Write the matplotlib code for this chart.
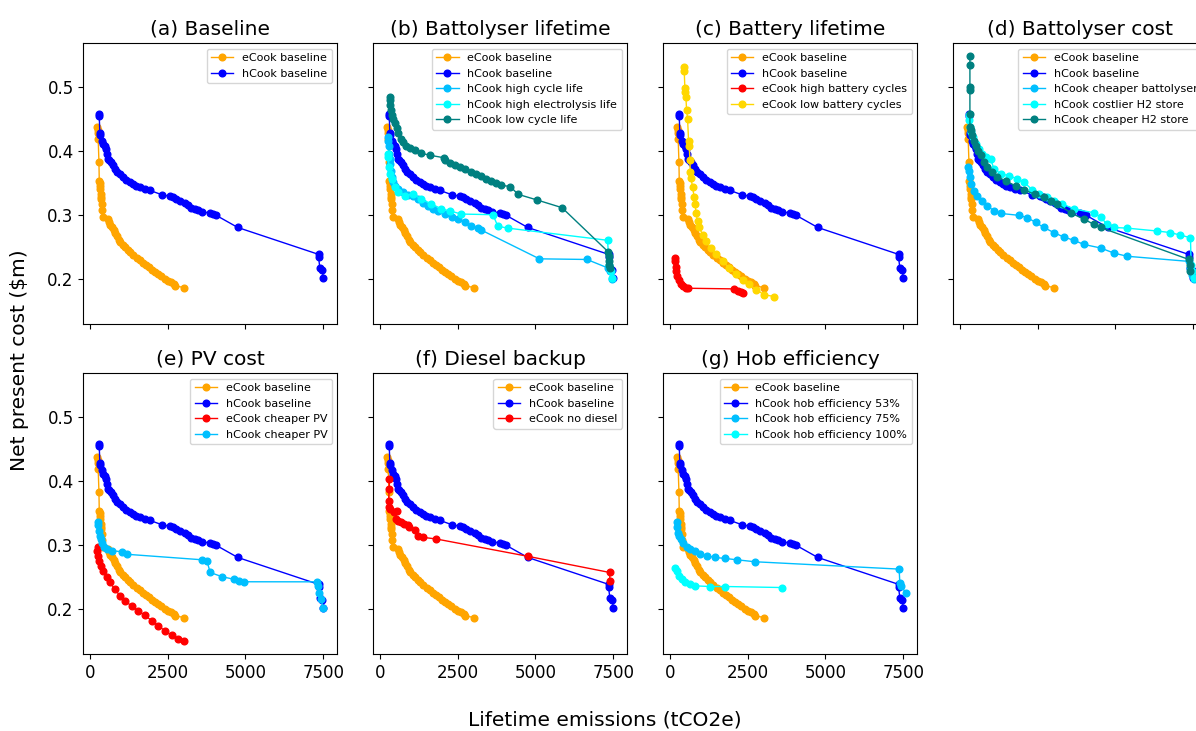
import matplotlib

matplotlib.use("Agg")
import matplotlib.pyplot as plt

# values (x = lifetime emissions tCO2e, y = NPC $m)
ecook_base_x = [240, 245, 255, 265, 290, 300, 310, 320, 325, 340, 350, 370, 385, 400, 420, 590, 620, 660, 700, 760,
                800, 860, 920, 980, 1060, 1140, 1220, 1300, 1400, 1500, 1600, 1700, 1800, 1900, 2000, 2100, 2200,
                2300, 2400, 2500, 2600, 2700, 2750, 3010]
ecook_base_y = [0.437, 0.432, 0.427, 0.419, 0.382, 0.353, 0.349, 0.345, 0.340, 0.333, 0.328, 0.324, 0.317, 0.307,
                0.296, 0.294, 0.289, 0.284, 0.280, 0.276, 0.271, 0.266, 0.261, 0.257, 0.253, 0.249, 0.245, 0.242,
                0.237, 0.233, 0.229, 0.225, 0.222, 0.218, 0.214, 0.211, 0.207, 0.204, 0.200, 0.197, 0.194, 0.191,
                0.189, 0.186]

hcook_base_x = [299, 299, 320, 320, 374, 427, 481, 513, 555, 587, 619, 662, 726, 801, 876, 961, 1068, 1175, 1282,
                1388, 1495, 1602, 1762, 1922, 2328, 2563, 2670, 2777, 2884, 3044, 3151, 3257, 3364, 3471, 3610,
                3845, 3952, 4058, 4753, 7348, 7348, 7391, 7476, 7497]
hcook_base_y = [0.458, 0.454, 0.427, 0.424, 0.416, 0.411, 0.408, 0.403, 0.395, 0.387, 0.385, 0.382, 0.377, 0.372,
                0.366, 0.363, 0.359, 0.354, 0.351, 0.348, 0.345, 0.343, 0.340, 0.338, 0.331, 0.329, 0.327, 0.324,
                0.322, 0.318, 0.315, 0.311, 0.309, 0.307, 0.304, 0.303, 0.301, 0.299, 0.280, 0.238, 0.234, 0.217,
                0.213, 0.201]

# (b) battolyser lifetime
hicyc_x = [246, 267, 288, 288, 320, 320, 352, 374, 427, 481, 587, 748, 908, 1068, 1228, 1388, 1549, 1709, 1869,
           2083, 2317, 2510, 2723, 2937, 3151, 3257, 5126, 6654, 7316, 7401, 7476]
hicyc_y = [0.4215, 0.416, 0.408, 0.395, 0.387, 0.380, 0.369, 0.359, 0.351, 0.345, 0.340, 0.335, 0.331, 0.329,
           0.324, 0.319, 0.314, 0.309, 0.305, 0.301, 0.296, 0.293, 0.288, 0.282, 0.279, 0.276, 0.231, 0.230,
           0.217, 0.212, 0.200]
hielec_x = [246, 267, 288, 320, 374, 481, 587, 801, 1068, 1335, 1655, 1976, 2243, 2617, 3631, 3791, 4112, 7316,
            7369, 7423, 7476]
hielec_y = [0.395, 0.390, 0.374, 0.364, 0.356, 0.343, 0.336, 0.330, 0.332, 0.324, 0.317, 0.309, 0.306, 0.301,
            0.300, 0.282, 0.279, 0.260, 0.222, 0.212, 0.201]
lowcyc_x = [320, 320, 331, 352, 374, 427, 481, 534, 587, 673, 748, 854, 961, 1121, 1335, 1602, 2061, 2083, 2243,
            2403, 2563, 2723, 2937, 3097, 3257, 3418, 3578, 3738, 3898, 4197, 4432, 5052, 5853, 7337, 7348, 7369,
            7369, 7401]
lowcyc_y = [0.4845, 0.479, 0.471, 0.464, 0.456, 0.449, 0.443, 0.435, 0.427, 0.419, 0.414, 0.408, 0.405, 0.401,
            0.396, 0.393, 0.389, 0.385, 0.381, 0.377, 0.374, 0.372, 0.366, 0.363, 0.360, 0.356, 0.352, 0.349,
            0.346, 0.344, 0.332, 0.323, 0.311, 0.242, 0.235, 0.227, 0.222, 0.216]

# (c) battery lifetime
hibat_x = [160, 165, 180, 200, 240, 300, 360, 420, 520, 570, 2070, 2180, 2280, 2350]
hibat_y = [0.2325, 0.227, 0.219, 0.2115, 0.204, 0.198, 0.1915, 0.188, 0.186, 0.185, 0.184, 0.181, 0.179, 0.1775]
lowbat_x = [460, 460, 481, 492, 514, 535, 567, 599, 621, 642, 653, 674, 728, 781, 813, 835, 888, 942, 1049, 1156,
            1316, 1477, 1691, 1905, 2119, 2333, 2547, 2761, 3028, 3349]
lowbat_y = [0.5307, 0.524, 0.4976, 0.492, 0.4845, 0.4635, 0.450, 0.416, 0.408, 0.385, 0.366, 0.358, 0.343, 0.327,
            0.3165, 0.303, 0.290, 0.280, 0.269, 0.259, 0.248, 0.238, 0.227, 0.217, 0.207, 0.198, 0.191, 0.183,
            0.175, 0.172]

# (d) battolyser cost
cheapbatt_x = [257, 289, 321, 364, 450, 557, 718, 878, 1092, 1307, 1896, 2163, 2431, 2699, 3020, 3342, 3663, 3984,
               4520, 4948, 5376, 7358, 7411, 7465, 7518]
cheapbatt_y = [0.374, 0.369, 0.3585, 0.348, 0.3375, 0.330, 0.322, 0.314, 0.306, 0.302, 0.299, 0.2955, 0.288, 0.280,
               0.272, 0.265, 0.260, 0.2535, 0.248, 0.240, 0.235, 0.227, 0.217, 0.206, 0.200]
costh2_x = [289, 289, 321, 364, 428, 503, 610, 718, 825, 985, 1092, 1307, 1574, 1842, 2056, 2324, 2538, 2806, 3020,
            3288, 3663, 4305, 4520, 4734, 4948, 5376, 6340, 6769, 7090, 7411, 7433, 7465, 7518]
costh2_y = [0.4556, 0.448, 0.437, 0.429, 0.4215, 0.411, 0.403, 0.395, 0.390, 0.387, 0.372, 0.364, 0.361, 0.356,
            0.351, 0.339, 0.332, 0.327, 0.322, 0.317, 0.309, 0.303, 0.296, 0.285, 0.280, 0.279, 0.2745, 0.272,
            0.268, 0.264, 0.222, 0.2115, 0.201]
cheaph2_x = [321, 321, 321, 321, 321, 321, 343, 396, 450, 503, 578, 664, 771, 878, 1039, 1200, 1467, 1789, 2056,
             2399, 2699, 2913, 3127, 3556, 3984, 4305, 4520, 7358, 7390, 7411]
cheaph2_y = [0.5485, 0.534, 0.500, 0.495, 0.458, 0.437, 0.432, 0.424, 0.416, 0.408, 0.400, 0.393, 0.382, 0.374,
             0.366, 0.359, 0.353, 0.345, 0.339, 0.332, 0.327, 0.322, 0.317, 0.303, 0.293, 0.285, 0.280, 0.230,
             0.222, 0.2115]

# (e) pv cost
ecook_pv_x = [260, 230, 250, 290, 354, 430, 537, 644, 806, 967, 1128, 1343, 1557, 1772, 1987, 2202, 2417, 2631,
              2846, 3039]
ecook_pv_y = [0.296, 0.290, 0.283, 0.275, 0.267, 0.259, 0.2487, 0.241, 0.230, 0.220, 0.212, 0.204, 0.196, 0.1895,
              0.181, 0.173, 0.165, 0.158, 0.153, 0.149]
hcook_pv_x = [268, 268, 290, 322, 354, 397, 462, 537, 698, 1020, 1181, 3598, 3759, 3866, 4242, 4618, 4779, 4940,
              7303, 7335, 7378, 7443, 7486]
hcook_pv_y = [0.336, 0.330, 0.322, 0.314, 0.309, 0.3026, 0.297, 0.293, 0.2906, 0.289, 0.285, 0.2764, 0.275, 0.2565,
              0.250, 0.246, 0.2435, 0.242, 0.2419, 0.2356, 0.225, 0.2147, 0.2016]

# (f) diesel
nodiesel_x = [300, 300, 278, 300, 321, 460, 535, 514, 568, 675, 782, 889, 942, 1135, 1210, 1371, 1799, 4766, 7390,
              7390]
nodiesel_y = [0.402, 0.3874, 0.369, 0.3586, 0.355, 0.3508, 0.3534, 0.340, 0.3377, 0.335, 0.3325, 0.330, 0.327,
              0.3236, 0.314, 0.3115, 0.309, 0.2817, 0.2565, 0.2435]

# (g) hob efficiency
hob75_x = [236, 236, 268, 300, 343, 428, 536, 643, 803, 964, 1178, 1446, 1767, 2142, 2731, 7368, 7390, 7443, 7583]
hob75_y = [0.335, 0.327, 0.319, 0.314, 0.309, 0.3026, 0.2958, 0.293, 0.2906, 0.2853, 0.2827, 0.280, 0.2785,
           0.2764, 0.2733, 0.2618, 0.2408, 0.2356, 0.224]
hob100_x = [161, 236, 300, 375, 482, 643, 803, 1285, 1767, 3588]
hob100_y = [0.2628, 0.259, 0.2513, 0.246, 0.2419, 0.2382, 0.2356, 0.2346, 0.2346, 0.233]

XTICKS = [0, 2500, 5000, 7500]
YTICKS = [0.2, 0.3, 0.4, 0.5]

E_BASE = ("eCook baseline", ecook_base_x, ecook_base_y, "orange")
H_BASE = ("hCook baseline", hcook_base_x, hcook_base_y, "blue")

panels = [
    ("(a) Baseline", [E_BASE, H_BASE]),
    ("(b) Battolyser lifetime", [E_BASE, H_BASE,
                                 ("hCook high cycle life", hicyc_x, hicyc_y, "deepskyblue"),
                                 ("hCook high electrolysis life", hielec_x, hielec_y, "cyan"),
                                 ("hCook low cycle life", lowcyc_x, lowcyc_y, "teal")]),
    ("(c) Battery lifetime", [E_BASE, H_BASE,
                              ("eCook high battery cycles", hibat_x, hibat_y, "red"),
                              ("eCook low battery cycles", lowbat_x, lowbat_y, "gold")]),
    ("(d) Battolyser cost", [E_BASE, H_BASE,
                             ("hCook cheaper battolyser", cheapbatt_x, cheapbatt_y, "deepskyblue"),
                             ("hCook costlier H2 store", costh2_x, costh2_y, "cyan"),
                             ("hCook cheaper H2 store", cheaph2_x, cheaph2_y, "teal")]),
    ("(e) PV cost", [E_BASE, H_BASE,
                     ("eCook cheaper PV", ecook_pv_x, ecook_pv_y, "red"),
                     ("hCook cheaper PV", hcook_pv_x, hcook_pv_y, "deepskyblue")]),
    ("(f) Diesel backup", [E_BASE, H_BASE,
                           ("eCook no diesel", nodiesel_x, nodiesel_y, "red")]),
    ("(g) Hob efficiency", [E_BASE,
                            ("hCook hob efficiency 53%", hcook_base_x, hcook_base_y, "blue"),
                            ("hCook hob efficiency 75%", hob75_x, hob75_y, "deepskyblue"),
                            ("hCook hob efficiency 100%", hob100_x, hob100_y, "cyan")]),
]


def main():
    fig, axs = plt.subplots(2, 4, sharex=True, sharey=True, figsize=(11.96, 7.31), dpi=100)
    # the right column runs off the page in the original, keep that
    fig.subplots_adjust(left=0.0697, right=1.0095, top=0.9412, bottom=0.1053, wspace=0.1417, hspace=0.174)

    for ax, (title, series) in zip(axs.flat, panels):
        for lbl, xs, ys, col in series:
            ax.plot(xs, ys, "-o", color=col, lw=1, ms=4.8, label=lbl)
        ax.set_title(title, fontsize=14.5)
        ax.legend(loc="upper right", fontsize=8)
        ax.tick_params(labelsize=12)

    axs[1, 3].remove()
    axs[0, 0].set_xticks(XTICKS)
    axs[0, 0].set_yticks(YTICKS)
    for ax in axs[0, :]:
        ax.tick_params(labelbottom=False)

    fig.text(20 / 1196, 1 - 360 / 731, "Net present cost (\\$m)", rotation=90, ha="center", va="center",
             fontsize=14.5)
    fig.text(605 / 1196, 1 - 720 / 731, "Lifetime emissions (tCO2e)", ha="center", va="center", fontsize=14.5)

    fig.savefig("out.png", dpi=100)


if __name__ == "__main__":
    main()
